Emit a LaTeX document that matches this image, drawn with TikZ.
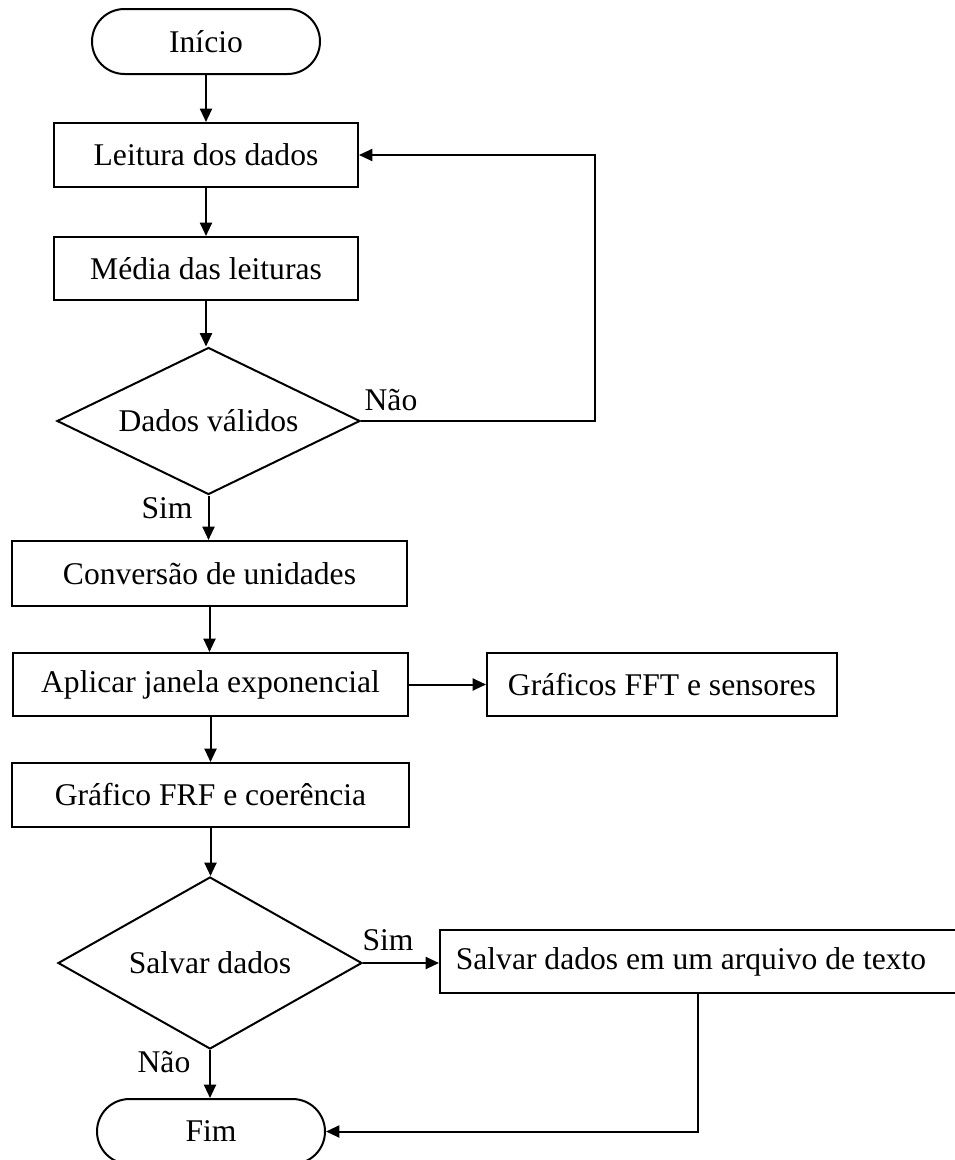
\documentclass[tikz,border=0pt]{standalone}
\usepackage{fontspec}
\setmainfont{Liberation Serif}
\usetikzlibrary{shapes.geometric,arrows.meta}
\begin{document}
\begin{tikzpicture}[x=0.75pt,y=-0.75pt,
  every node/.style={font=\fontsize{23.7}{28}\selectfont},
  box/.style={draw, line width=1.5pt, rectangle, inner sep=0pt},
  term/.style={draw, line width=1.5pt, rectangle, rounded corners=24.375pt,
               minimum width=171pt, minimum height=48.75pt, inner sep=0pt},
  dec/.style={draw, line width=1.5pt, diamond, inner sep=0pt, aspect=2},
  conn/.style={line width=1.5pt, -{Triangle[length=10pt,width=9pt]}},
  lbl/.style={inner sep=0pt}]
\clip (0,0) rectangle (955,1160);
% nodes
\node[term] (start) at (206,41.5) {Início};
\node[box, minimum width=228pt, minimum height=48pt] (leitura) at (206,155) {Leitura dos dados};
\node[box, minimum width=228pt, minimum height=47.25pt] (media) at (206,268.5) {Média das leituras};
\node[dec, minimum width=227.25pt, minimum height=110.25pt] (valid) at (208.5,421) {Dados válidos};
\node[box, minimum width=296.25pt, minimum height=48.75pt] (conv) at (209.5,573.5) {Conversão de unidades};
\node[box, minimum width=296.25pt, minimum height=47.25pt] (aplicar) at (210.5,684.5) {Aplicar janela exponencial};
\node[box, minimum width=262.5pt, minimum height=47.25pt] (fft) at (662,684.5) {Gráficos FFT e sensores};
\node[box, minimum width=297.75pt, minimum height=48pt] (grafico) at (210.5,795) {Gráfico FRF e coerência};
\node[dec, minimum width=228pt, minimum height=129pt] (salvar) at (210,963) {Salvar dados};
\node[box, minimum width=391.5pt, minimum height=47.25pt] (file) at (701,961.5) {};
\node[lbl] (filetext) at (691,962) {Salvar dados em um arquivo de texto};
\node[term] (end) at (211,1131.5) {Fim};
% labels
\node[lbl] (lnao1) at (391,400) {Não};
\node[lbl] (lsim1) at (167,508) {Sim};
\node[lbl] (lsim2) at (388,940) {Sim};
\node[lbl] (lnao2) at (164,1062) {Não};
% helper coordinates
\coordinate (c0) at (595,421);
\coordinate (c1) at (698,1131.5);
% connectors
\draw[conn] (start) -- (leitura);
\draw[conn] (leitura) -- (media);
\draw[conn] (media.south) -- (media.south |- valid.north);
\draw[conn] (valid.east) -- (c0) -- (c0 |- leitura.east) -- (leitura.east);
\draw[conn] (valid.south) -- (valid.south |- conv.north);
\draw[conn] (conv.south) -- (conv.south |- aplicar.north);
\draw[conn] (aplicar.east) -- (fft.west);
\draw[conn] (aplicar.south) -- (aplicar.south |- grafico.north);
\draw[conn] (grafico.south) -- (grafico.south |- salvar.north);
\draw[conn] (salvar.east) -- (salvar.east -| file.west);
\draw[conn] (salvar.south) -- (salvar.south |- end.north);
\draw[conn] (c1 |- file.south) -- (c1) -- (end.east);
\end{tikzpicture}
\end{document}
